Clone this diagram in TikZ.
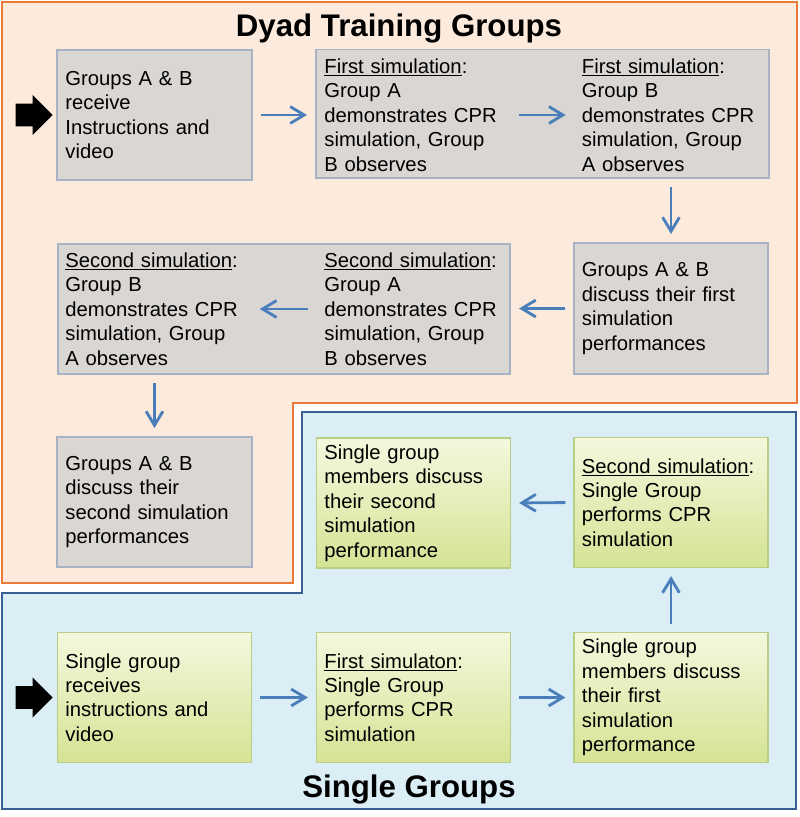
\documentclass[tikz,border=0pt]{standalone}
\usepackage{fontspec}
\setmainfont{Liberation Sans}
\usetikzlibrary{shapes.arrows,arrows.meta}

\definecolor{dyadfill}{RGB}{252,234,220}
\definecolor{dyadline}{RGB}{232,122,60}
\definecolor{singlefill}{RGB}{219,238,246}
\definecolor{singleline}{RGB}{56,96,146}
\definecolor{grayfill}{RGB}{217,214,212}
\definecolor{grayline}{RGB}{167,178,195}
\definecolor{greentop}{RGB}{244,248,222}
\definecolor{greenbot}{RGB}{213,227,148}
\definecolor{greenline}{RGB}{184,206,132}
\definecolor{flow}{RGB}{74,126,187}

\tikzset{
  every node/.style={font=\fontsize{14.4}{17.4}\selectfont},
  txt/.style={text width=4.45cm, align=left, inner xsep=0.2cm, inner ysep=0pt},
  graybox/.style={txt, draw=grayline, line width=1.4pt, fill=grayfill, minimum width=4.85cm, minimum height=3.25cm},
  greenbox/.style={txt, draw=greenline, line width=0.8pt, top color=greentop, bottom color=greenbot, minimum width=4.85cm, minimum height=3.25cm},
  flowarrow/.style={draw=flow, line width=2pt, -{Straight Barb[length=3.5mm,width=4.2mm]}, shorten <=0.2cm, shorten >=0.2cm},
  title/.style={font=\fontsize{22.2}{26}\selectfont\bfseries},
  startarrow/.style={single arrow, fill=black, minimum height=0.925cm, inner xsep=0pt, inner ysep=0.275cm, single arrow head extend=0.22cm}
}

\begin{document}
\begin{tikzpicture}[x=0.025cm, y=-0.025cm]
    \useasboundingbox (0,0) rectangle (800,817);

    \draw[dyadline, fill=dyadfill, line width=1.8pt] (2,2) -- (797,2) -- (797,403) -- (293,403) -- (293,583) -- (2,583) -- cycle;
    \draw[singleline, fill=singlefill, line width=1.8pt] (302,412) -- (796,412) -- (796,809) -- (2,809) -- (2,593) -- (302,593) -- cycle;

    \node[title] (dyadtitle) at (399,28) {Dyad Training Groups};
    \node[title] (singletitle) at (409,789) {Single Groups};

    \node[startarrow] (dyadstart) at (28.5,115) {};
    \node[graybox] (recv) at (154.5,115) {Groups A \& B\\ receive\\ Instructions and\\ video};

    \node[graybox, minimum width=11.325cm, minimum height=3.2cm] (sim1) at (542.5,113.5) {};
    \node[txt] (sim1a) at (413.5,115) {\underline{First simulation}:\\ Group A\\ demonstrates CPR\\ simulation, Group\\ B observes};
    \node[txt] (sim1b) at (671,115) {\underline{First simulation}:\\ Group B\\ demonstrates CPR\\ simulation, Group\\ A observes};

    \node[graybox, minimum height=3.275cm] (disc1) at (671,308.5) {Groups A \& B\\ discuss their first\\ simulation\\ performances};

    \node[graybox, minimum width=11.3cm] (sim2) at (284,309) {};
    \node[txt] (sim2a) at (413.5,309) {\underline{Second simulation}:\\ Group A\\ demonstrates CPR\\ simulation, Group\\ B observes};
    \node[txt] (sim2b) at (154.5,309) {\underline{Second simulation}:\\ Group B\\ demonstrates CPR\\ simulation, Group\\ A observes};

    \node[graybox] (disc2) at (154.5,502) {Groups A \& B\\ discuss their\\ second simulation\\ performances};

    \node[greenbox] (single2) at (671,502.5) {\underline{Second simulation}:\\ Single Group\\ performs CPR\\ simulation};
    \node[greenbox] (singledisc2) at (413.5,503) {Single group\\ members discuss\\ their second\\ simulation\\ performance};

    \node[startarrow] (singlestart) at (28.5,697.5) {};
    \node[greenbox] (singlerecv) at (154.5,697.5) {Single group\\ receives\\ instructions and\\ video};
    \node[greenbox] (single1) at (413.5,697.5) {\underline{First simulaton}:\\ Single Group\\ performs CPR\\ simulation};
    \node[greenbox] (singledisc1) at (671,697.5) {Single group\\ members discuss\\ their first\\ simulation\\ performance};

    \draw[flowarrow] (recv.east) -- (recv.east -| sim1.west);
    \draw[flowarrow] (sim1a.east) -- (sim1b.west);
    \draw[flowarrow] (sim1.south -| disc1.north) -- (disc1.north);
    \draw[flowarrow] (disc1.west) -- (disc1.west -| sim2.east);
    \draw[flowarrow] (sim2a.west) -- (sim2b.east);
    \draw[flowarrow] (sim2.south -| disc2.north) -- (disc2.north);

    \draw[flowarrow] (singlerecv.east) -- (single1.west);
    \draw[flowarrow] (single1.east) -- (singledisc1.west);
    \draw[flowarrow] (singledisc1.north) -- (single2.south);
    \draw[flowarrow] (single2.west) -- (singledisc2.east);
\end{tikzpicture}
\end{document}
